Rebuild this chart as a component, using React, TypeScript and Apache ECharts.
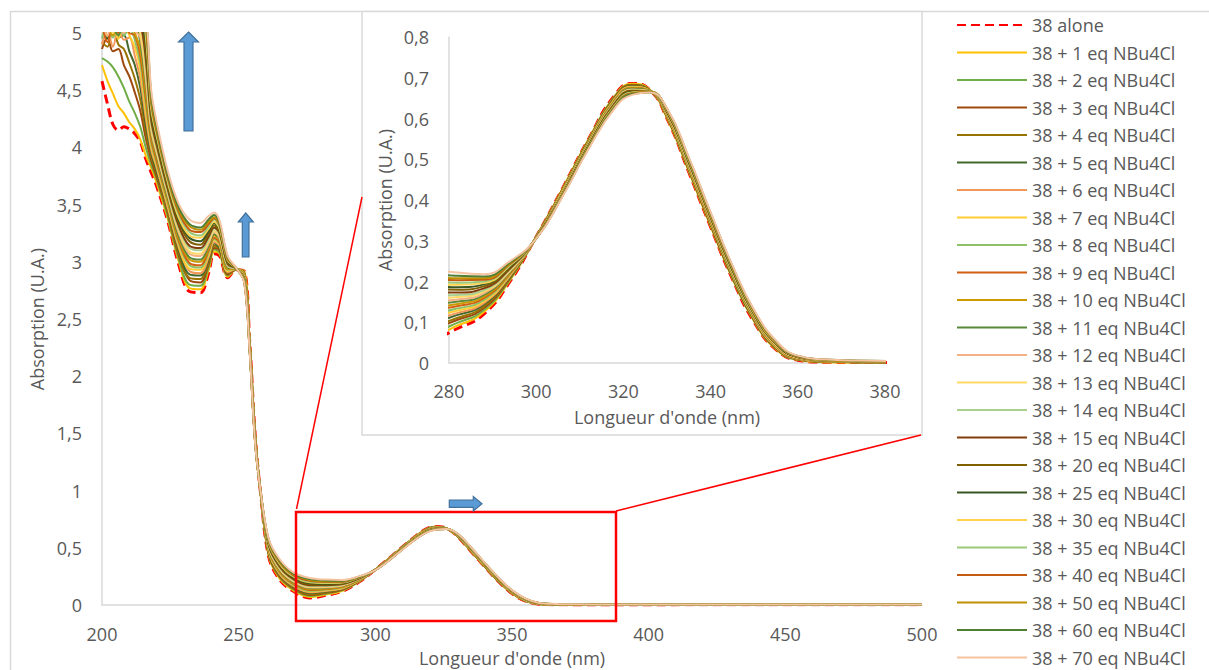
import React, { useEffect, useRef } from 'react';
import * as echarts from 'echarts';

// Wavelengths (nm) shared by every spectrum
const wavelengths = [200,202,204,206,208,210,212,214,216,218,220,224,228,232,236,239,241,243,246,249,252,254,256,258,261,265,270,276,282,288,294,300,306,312,318,322,326,330,335,340,345,350,355,360,366,374,385,500];

const alone = [4.58,4.38,4.20,4.15,4.18,4.16,4.12,4.05,3.90, 3.78,3.66,3.36,2.98,2.74,2.73,2.90,3.07,3.05,2.86, 2.93,2.92,2.32,1.50,0.98,0.42,0.22,0.12,0.062,0.085, 0.120,0.200,0.310,0.428,0.550,0.657,0.686,0.671,0.600,0.468, 0.334,0.206,0.100,0.033,0.007,0.002,0.001,0.001,0.002];
const eq1 = [4.72,4.58,4.47,4.36,4.30,4.22,4.16,4.07,3.93, 3.82,3.69,3.38,3.01,2.77,2.76,2.93,3.09,3.07,2.87, 2.93,2.92,2.32,1.50,0.98,0.43,0.23,0.128,0.071,0.092, 0.125,0.203,0.310,0.427,0.549,0.655,0.685,0.671,0.601,0.470, 0.336,0.208,0.102,0.034,0.008,0.002,0.001,0.001,0.002];
const eq2 = [4.78,4.75,4.70,4.62,4.52,4.40,4.30,4.18,4.00, 3.85,3.72,3.40,3.03,2.80,2.79,2.95,3.11,3.08,2.88, 2.93,2.91,2.31,1.49,0.98,0.44,0.24,0.137,0.079,0.099, 0.130,0.205,0.310,0.426,0.548,0.654,0.683,0.670,0.603,0.472, 0.338,0.209,0.103,0.035,0.008,0.003,0.002,0.001,0.002];
const eq3 = [4.86,4.96,4.84,4.86,4.72,4.62,4.48,4.32,4.08, 3.89,3.74,3.43,3.06,2.84,2.82,2.98,3.12,3.10,2.89, 2.93,2.905,2.305,1.49,0.983,0.444,0.247,0.145,0.088,0.106, 0.135,0.208,0.309,0.425,0.546,0.652,0.682,0.670,0.604,0.474, 0.339,0.211,0.105,0.036,0.009,0.003,0.002,0.002,0.002];
const eq4 = [4.92,4.88,5.05,4.90,4.86,4.74,4.60,4.42,4.14, 3.92,3.77,3.44,3.08,2.86,2.85,3.00,3.14,3.11,2.90, 2.934,2.90,2.30,1.485,0.984,0.450,0.254,0.151,0.095,0.111, 0.139,0.210,0.309,0.424,0.545,0.651,0.681,0.670,0.605,0.475, 0.341,0.212,0.106,0.037,0.009,0.003,0.002,0.002,0.003];
const eq5 = [5.05,4.95,5.10,4.96,4.98,4.84,4.72,4.52,4.20, 3.95,3.79,3.47,3.11,2.89,2.88,3.02,3.16,3.12,2.91, 2.935,2.896,2.296,1.48,0.985,0.458,0.263,0.160,0.104,0.118, 0.144,0.212,0.309,0.423,0.544,0.649,0.679,0.669,0.606,0.477, 0.343,0.214,0.107,0.038,0.010,0.004,0.002,0.002,0.003];
const eq6 = [4.90,5.02,4.88,5.05,4.94,4.96,4.80,4.60,4.26, 3.98,3.82,3.48,3.13,2.92,2.90,3.04,3.17,3.14,2.91, 2.936,2.892,2.292,1.478,0.986,0.465,0.270,0.166,0.111,0.123, 0.147,0.214,0.309,0.422,0.543,0.648,0.678,0.669,0.607,0.478, 0.344,0.216,0.108,0.039,0.010,0.004,0.002,0.002,0.003];
const eq7 = [5.10,4.98,5.06,4.95,5.08,4.98,4.88,4.68,4.32, 4.01,3.84,3.50,3.15,2.94,2.93,3.06,3.19,3.15,2.92, 2.936,2.888,2.288,1.474,0.986,0.471,0.278,0.173,0.118,0.129, 0.151,0.216,0.308,0.422,0.542,0.647,0.677,0.669,0.608,0.480, 0.346,0.217,0.110,0.040,0.011,0.004,0.003,0.002,0.003];
const eq8 = [4.95,5.08,4.96,5.10,4.98,5.04,4.94,4.74,4.38, 4.04,3.86,3.52,3.17,2.97,2.95,3.08,3.20,3.16,2.93, 2.937,2.884,2.284,1.471,0.987,0.478,0.285,0.179,0.125,0.134, 0.155,0.218,0.308,0.421,0.541,0.645,0.676,0.668,0.609,0.481, 0.347,0.218,0.111,0.041,0.011,0.005,0.003,0.002,0.003];
const eq9 = [5.08,4.92,5.10,5.00,5.10,5.00,4.98,4.80,4.43, 4.07,3.88,3.54,3.19,2.99,2.97,3.10,3.21,3.17,2.94, 2.938,2.88,2.28,1.468,0.988,0.484,0.292,0.186,0.132,0.140, 0.159,0.220,0.308,0.420,0.540,0.644,0.675,0.668,0.610,0.483, 0.348,0.220,0.112,0.042,0.011,0.005,0.003,0.003,0.003];
const eq10 = [5.10,5.05,4.98,5.10,5.02,5.10,5.00,4.86,4.49, 4.10,3.91,3.55,3.21,3.02,3.00,3.12,3.23,3.19,2.94, 2.939,2.876,2.276,1.465,0.989,0.490,0.299,0.193,0.139,0.145, 0.163,0.222,0.308,0.419,0.539,0.643,0.674,0.668,0.611,0.484, 0.350,0.221,0.113,0.043,0.012,0.005,0.003,0.003,0.003];
const eq11 = [5.06,5.10,5.04,4.98,5.10,5.04,5.08,4.92,4.55, 4.13,3.93,3.57,3.23,3.04,3.02,3.14,3.24,3.20,2.95, 2.94,2.872,2.272,1.462,0.99,0.497,0.306,0.199,0.146,0.151, 0.167,0.224,0.308,0.418,0.538,0.642,0.673,0.668,0.612,0.486, 0.351,0.222,0.114,0.044,0.012,0.005,0.003,0.003,0.003];
const eq12 = [5.10,4.98,5.10,5.06,5.00,5.10,5.02,4.96,4.60, 4.15,3.95,3.59,3.26,3.07,3.05,3.16,3.26,3.21,2.96, 2.94,2.868,2.268,1.458,0.99,0.503,0.314,0.206,0.152,0.156, 0.171,0.226,0.307,0.418,0.537,0.640,0.671,0.667,0.613,0.487, 0.353,0.224,0.116,0.044,0.013,0.006,0.004,0.003,0.004];
const eq13 = [5.02,5.10,5.00,5.10,5.08,5.04,5.10,5.00,4.66, 4.18,3.97,3.61,3.28,3.09,3.07,3.18,3.27,3.22,2.97, 2.941,2.864,2.264,1.455,0.991,0.510,0.321,0.212,0.159,0.162, 0.175,0.228,0.307,0.417,0.536,0.639,0.670,0.667,0.614,0.489, 0.354,0.225,0.117,0.045,0.013,0.006,0.004,0.003,0.004];
const eq14 = [5.10,5.04,5.10,5.02,5.10,5.10,5.04,5.04,4.72, 4.21,4.00,3.62,3.30,3.12,3.10,3.20,3.29,3.24,2.97, 2.942,2.86,2.26,1.452,0.992,0.516,0.328,0.219,0.166,0.167, 0.179,0.230,0.307,0.416,0.535,0.638,0.669,0.667,0.615,0.490, 0.356,0.226,0.118,0.046,0.014,0.006,0.004,0.003,0.004];
const eq15 = [5.20,5.10,5.06,5.10,5.04,5.10,5.10,5.08,4.78, 4.24,4.02,3.64,3.32,3.14,3.12,3.22,3.30,3.25,2.98, 2.943,2.856,2.256,1.449,0.993,0.522,0.335,0.226,0.173,0.173, 0.183,0.232,0.307,0.415,0.534,0.637,0.668,0.667,0.616,0.492, 0.357,0.228,0.119,0.047,0.014,0.006,0.004,0.004,0.004];
const eq20 = [5.20,5.20,5.10,5.20,5.10,5.15,5.10,5.10,4.85, 4.28,4.05,3.66,3.35,3.18,3.15,3.25,3.32,3.26,2.99, 2.944,2.851,2.251,1.445,0.994,0.530,0.344,0.234,0.182,0.180, 0.188,0.235,0.307,0.414,0.533,0.635,0.667,0.666,0.617,0.494, 0.359,0.229,0.121,0.048,0.015,0.007,0.004,0.004,0.004];
const eq25 = [5.20,5.20,5.20,5.10,5.20,5.20,5.15,5.12,4.92, 4.31,4.07,3.69,3.37,3.21,3.18,3.27,3.34,3.28,3.00, 2.945,2.846,2.246,1.441,0.995,0.538,0.353,0.242,0.191,0.186, 0.193,0.237,0.306,0.413,0.532,0.633,0.665,0.666,0.619,0.495, 0.361,0.231,0.122,0.049,0.015,0.007,0.005,0.004,0.004];
const eq30 = [5.30,5.25,5.30,5.20,5.30,5.25,5.20,5.20,4.98, 4.34,4.10,3.70,3.39,3.23,3.21,3.29,3.35,3.29,3.01, 2.946,2.842,2.242,1.438,0.996,0.545,0.360,0.249,0.198,0.192, 0.196,0.239,0.306,0.412,0.530,0.632,0.664,0.666,0.620,0.497, 0.362,0.233,0.123,0.050,0.016,0.007,0.005,0.004,0.004];
const eq35 = [5.30,5.30,5.25,5.30,5.25,5.30,5.25,5.20,5.03, 4.37,4.12,3.72,3.42,3.26,3.23,3.31,3.37,3.30,3.02, 2.946,2.838,2.238,1.434,0.996,0.551,0.368,0.255,0.205,0.197, 0.200,0.241,0.306,0.412,0.530,0.631,0.663,0.665,0.621,0.498, 0.364,0.234,0.125,0.051,0.016,0.008,0.005,0.004,0.004];
const eq40 = [5.30,5.30,5.30,5.30,5.30,5.30,5.30,5.25,5.08, 4.40,4.14,3.74,3.44,3.28,3.26,3.33,3.38,3.32,3.02, 2.947,2.834,2.234,1.431,0.997,0.558,0.375,0.262,0.212,0.203, 0.204,0.243,0.306,0.411,0.529,0.629,0.662,0.665,0.622,0.500, 0.365,0.235,0.126,0.052,0.016,0.008,0.005,0.004,0.005];
const eq50 = [5.30,5.30,5.30,5.30,5.30,5.30,5.30,5.30,5.12, 4.43,4.16,3.76,3.46,3.31,3.28,3.35,3.39,3.33,3.03, 2.948,2.83,2.23,1.428,0.998,0.564,0.382,0.269,0.219,0.208, 0.208,0.245,0.306,0.410,0.528,0.628,0.661,0.665,0.623,0.501, 0.366,0.237,0.127,0.053,0.017,0.008,0.005,0.004,0.005];
const eq60 = [5.30,5.30,5.30,5.30,5.30,5.30,5.30,5.30,5.18, 4.46,4.19,3.77,3.48,3.33,3.30,3.37,3.41,3.34,3.04, 2.949,2.826,2.226,1.425,0.999,0.570,0.389,0.275,0.226,0.214, 0.212,0.247,0.305,0.409,0.527,0.627,0.660,0.664,0.624,0.503, 0.368,0.238,0.128,0.054,0.017,0.009,0.006,0.005,0.005];
const eq70 = [5.30,5.30,5.30,5.30,5.30,5.30,5.30,5.30,5.20, 4.50,4.22,3.80,3.51,3.37,3.34,3.40,3.43,3.36,3.05, 2.95,2.82,2.22,1.42,1.00,0.580,0.400,0.285,0.236,0.222, 0.218,0.250,0.305,0.408,0.525,0.625,0.658,0.664,0.625,0.505, 0.370,0.240,0.130,0.055,0.018,0.009,0.006,0.005,0.005];

const seriesNames = ['38 alone','38 + 1 eq NBu4Cl','38 + 2 eq NBu4Cl','38 + 3 eq NBu4Cl','38 + 4 eq NBu4Cl','38 + 5 eq NBu4Cl','38 + 6 eq NBu4Cl','38 + 7 eq NBu4Cl','38 + 8 eq NBu4Cl','38 + 9 eq NBu4Cl','38 + 10 eq NBu4Cl','38 + 11 eq NBu4Cl','38 + 12 eq NBu4Cl','38 + 13 eq NBu4Cl','38 + 14 eq NBu4Cl','38 + 15 eq NBu4Cl','38 + 20 eq NBu4Cl','38 + 25 eq NBu4Cl','38 + 30 eq NBu4Cl','38 + 35 eq NBu4Cl','38 + 40 eq NBu4Cl','38 + 50 eq NBu4Cl','38 + 60 eq NBu4Cl','38 + 70 eq NBu4Cl'];
const seriesColors = ['#FF0000','#FFC000','#70AD47','#9E480E','#997300','#43682B','#F1975A','#FFCD33','#8CC168','#D26012','#CC9900','#5A8A39','#F4B183','#FFD966','#A9D08E','#833C0B','#806000','#385723','#FFD34D','#9AC97B','#C55A11','#BF9000','#507E32','#F6C3A0'];
const seriesValues = [alone,eq1,eq2,eq3,eq4,eq5,eq6,eq7,eq8,eq9,eq10,eq11,eq12,eq13,eq14,eq15,eq20,eq25,eq30,eq35,eq40,eq50,eq60,eq70];

const mainXRange = [200, 500, 50];
const mainYRange = [0, 5, 0.5];
const insetXRange = [280, 380, 20];
const insetYRange = [0, 0.8, 0.1];
const xTitle = "Longueur d'onde (nm)";
const yTitle = 'Absorption (U.A.)';

export default function App() {
  const ref = useRef<HTMLDivElement>(null);
  useEffect(() => {
    const chart = echarts.init(ref.current as HTMLDivElement, null, { renderer: 'svg' });
    const font = 'Open Sans';
    const gray = '#595959';
    const axisColor = '#D9D9D9';
    const fmt = (v: number) => String(Math.round(v * 10) / 10).replace('.', ',');

    const series: any[] = [];
    seriesValues.forEach((vals, i) => {
      const data = wavelengths.map((w, j) => [w, vals[j]]);
      const isAlone = i === 0;
      const lineStyle = { color: seriesColors[i], width: isAlone ? 3 : 2, type: isAlone ? [9, 5] : 'solid' };
      [0, 1].forEach((k) => {
        series.push({
          type: 'line',
          name: seriesNames[i],
          xAxisIndex: k,
          yAxisIndex: k,
          data,
          smooth: k === 0 ? 0.35 : 0.5,
          symbol: 'none',
          showSymbol: false,
          clip: true,
          silent: true,
          lineStyle,
          itemStyle: { color: seriesColors[i], opacity: 0 },
        });
      });
    });

    const axisCommon = (range: number[], grid: number, margin: number, name: string, nameGap: number, isY: boolean) => ({
      type: 'value',
      gridIndex: grid,
      min: range[0],
      max: range[1],
      interval: range[2],
      axisLine: { show: true, onZero: false, lineStyle: { color: axisColor, width: 1.5 } },
      axisTick: { show: false },
      splitLine: { show: false },
      axisLabel: { color: gray, fontSize: 18, fontFamily: font, margin, formatter: isY ? fmt : (v: number) => String(v) },
      name,
      nameLocation: 'middle',
      nameGap,
      nameTextStyle: { color: gray, fontSize: 18, fontFamily: font },
    });

    const option: any = {
      animation: false,
      backgroundColor: '#ffffff',
      textStyle: { fontFamily: font },
      grid: [
        { left: 102, top: 33, width: 820, height: 572, containLabel: false, outerBoundsMode: 'none' },
        { left: 449, top: 37, width: 436, height: 326, containLabel: false, outerBoundsMode: 'none' },
      ],
      xAxis: [
        axisCommon(mainXRange, 0, 20, xTitle, 44, false),
        axisCommon(insetXRange, 1, 19, xTitle, 45, false),
      ],
      yAxis: [
        axisCommon(mainYRange, 0, 20, yTitle, 54, true),
        axisCommon(insetYRange, 1, 20, yTitle, 55, true),
      ],
      legend: {
        orient: 'vertical',
        left: 951,
        top: 11,
        height: 700,
        itemWidth: 70,
        itemHeight: 2,
        itemGap: 9.5,
        data: seriesNames,
        selectedMode: false,
        itemStyle: { opacity: 0 },
        textStyle: { color: gray, fontSize: 18, fontFamily: font, lineHeight: 18 },
      },
      graphic: [
        { type: 'rect', z: -2, shape: { x: 10.5, y: 11.5, width: 1300, height: 700 }, style: { fill: 'transparent', stroke: axisColor, lineWidth: 1.5 } },
        { type: 'rect', z: -1, shape: { x: 362, y: 11.5, width: 560, height: 423.5 }, style: { fill: '#ffffff', stroke: axisColor, lineWidth: 1.5 } },
        { type: 'rect', z: 10, shape: { x: 296, y: 512, width: 320, height: 109 }, style: { fill: 'transparent', stroke: '#FF0000', lineWidth: 2.5 } },
        { type: 'line', z: 10, shape: { x1: 296.5, y1: 509, x2: 362, y2: 197 }, style: { stroke: '#FF0000', lineWidth: 1.5 } },
        { type: 'line', z: 10, shape: { x1: 616, y1: 511, x2: 921, y2: 435 }, style: { stroke: '#FF0000', lineWidth: 1.5 } },
        { type: 'polygon', z: 10, shape: { points: [[188.5, 32], [198.5, 42], [193, 42], [193, 131], [184, 131], [184, 42], [178.5, 42]] }, style: { fill: '#5B9BD5', stroke: '#41719C', lineWidth: 1.2 } },
        { type: 'polygon', z: 10, shape: { points: [[245.7, 213], [253.3, 222], [249, 222], [249, 257], [242.3, 257], [242.3, 222], [238.3, 222]] }, style: { fill: '#5B9BD5', stroke: '#41719C', lineWidth: 1.2 } },
        { type: 'polygon', z: 10, shape: { points: [[449.3, 500], [473.3, 500], [473.3, 496.5], [482, 503.7], [473.3, 511], [473.3, 507.3], [449.3, 507.3]] }, style: { fill: '#5B9BD5', stroke: '#41719C', lineWidth: 1.2 } },
      ],
      series,
    };
    chart.setOption(option);
    return () => chart.dispose();
  }, []);
  return <div ref={ref} style={{ position: 'fixed', left: 0, top: 0, width: 1209, height: 670, background: '#fff' }} />;
}
